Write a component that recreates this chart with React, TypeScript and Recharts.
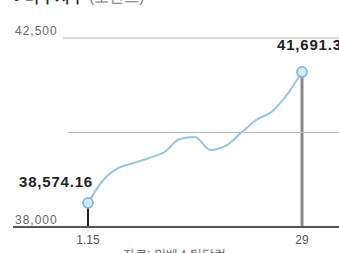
import React from "react";
import { LineChart, Line, XAxis, YAxis, ReferenceLine } from "recharts";

const dates = ["1.15", "1.16", "1.17", "1.18", "1.19", "1.20", "1.21", "1.22", "1.23", "1.24", "1.25", "1.26", "1.27", "1.28", "1.29"];
const values = [38574.16, 39119, 39405, 39524, 39643, 39786, 40095, 40143, 39833, 39929, 40238, 40548, 40738, 41143, 41691.33];
const yTicks = [38000, 40250, 42500];
const xTicks = ["1.15", "1.29"];
const title = "다우지수";
const titleSub = "(포인트)";
const source = "자료: 인베스팅닷컴";

const data = dates.map((d, i) => ({ d, v: values[i] }));
const W = 339;
const H = 253;
const FONT = "'Liberation Sans', Arial, sans-serif";

const fmt = (v: number) => v.toLocaleString("en-US", { minimumFractionDigits: 0, maximumFractionDigits: 2 });

const renderYTick = (props: any) => {
  const { y, payload, index } = props;
  const v = payload.value;
  if (v === 40250) {
    return <line key={`yt-${index}`} x1={68} x2={W} y1={y} y2={y} stroke="#bbb" strokeWidth={1} />;
  }
  return (
    <g key={`yt-${index}`}>
      {v === 42500 && <line x1={63} x2={W} y1={y} y2={y} stroke="#ccc" strokeWidth={1.5} />}
      <text x={15} y={y - 3} fill="#666" fontSize={12} letterSpacing={1} fontFamily={FONT} textAnchor="start">
        {fmt(v)}
      </text>
    </g>
  );
};

const renderDot = (props: any) => {
  const { cx, cy, index } = props;
  if (index === 0 || index === values.length - 1) {
    return <circle key={`dot-${index}`} cx={cx} cy={cy} r={5} fill="#d4ebf5" stroke="#7db9d6" strokeWidth={1.8} />;
  }
  return <g key={`dot-${index}`} />;
};

const renderLabel = (props: any) => {
  const { x, y, index, value } = props;
  if (index === 0) {
    return (
      <text key="l0" x={x + 5} y={y - 16} textAnchor="end" fill="#222" fontSize={15} fontWeight="bold" letterSpacing={0.8} fontFamily={FONT}>
        {fmt(value)}
      </text>
    );
  }
  if (index === values.length - 1) {
    return (
      <text key="l1" x={x - 25} y={y - 22} textAnchor="start" fill="#222" fontSize={15} fontWeight="bold" letterSpacing={0.8} fontFamily={FONT}>
        {fmt(value)}
      </text>
    );
  }
  return null;
};

export default function App() {
  const first = dates[0];
  const last = dates[dates.length - 1];
  return (
    <div style={{ position: "absolute", left: 0, top: 0, width: W, height: H, overflow: "hidden", background: "#fff", fontFamily: FONT }}>
      <div style={{ position: "absolute", left: 12, top: -12, whiteSpace: "nowrap", fontSize: 15, lineHeight: "18px" }}>
        <span style={{ color: "#222", fontWeight: "bold" }}>● {title}</span>
        <span style={{ color: "#777", marginLeft: 4 }}>{titleSub}</span>
      </div>
      <LineChart width={W} height={H} data={data} margin={{ top: 38, right: 0, bottom: 0, left: 12 }}>
        <YAxis
          domain={[38000, 42500]}
          ticks={yTicks}
          width={1}
          axisLine={false}
          tickLine={false}
          tick={renderYTick}
          interval={0}
          allowDataOverflow
        />
        <XAxis
          dataKey="d"
          ticks={xTicks}
          interval={0}
          height={26}
          padding={{ left: 75, right: 37 }}
          axisLine={{ stroke: "#555", strokeWidth: 2 }}
          tickLine={false}
          tick={{ fill: "#555", fontSize: 12, fontFamily: FONT }}
          tickFormatter={(v: string) => (v === last ? v.split(".")[1] : v)}
        />
        <ReferenceLine segment={[{ x: last, y: 38000 }, { x: last, y: values[values.length - 1] }]} stroke="#888" strokeWidth={3} />
        <ReferenceLine segment={[{ x: first, y: 38000 }, { x: first, y: values[0] }]} stroke="#222" strokeWidth={2} />
        <Line
          dataKey="v"
          type="monotone"
          stroke="#93c7df"
          strokeWidth={2}
          dot={renderDot}
          activeDot={false}
          label={renderLabel}
          isAnimationActive={false}
        />
      </LineChart>
      <div style={{ position: "absolute", left: 123, top: 246, whiteSpace: "nowrap", fontSize: 12, color: "#555" }}>
        {source}
      </div>
    </div>
  );
}
